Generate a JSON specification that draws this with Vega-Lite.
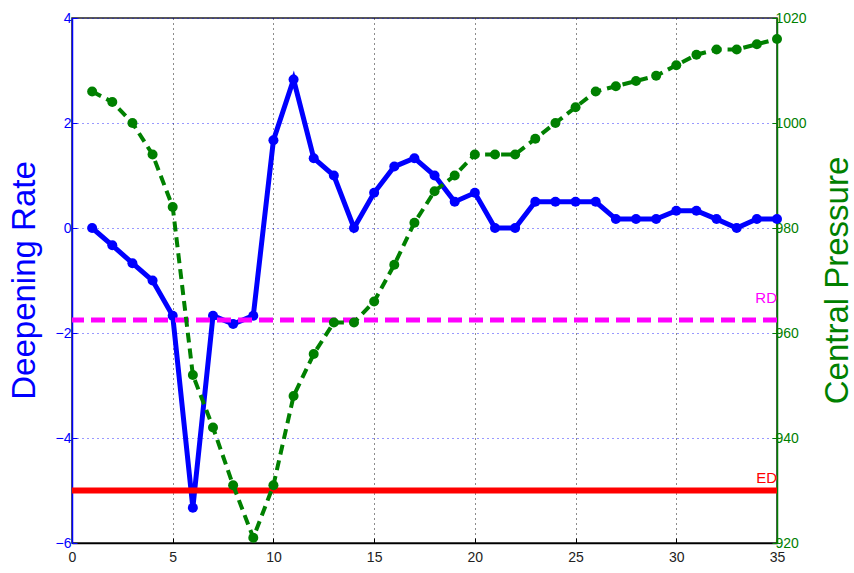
{
  "$schema": "https://vega.github.io/schema/vega-lite/v6.json",
  "width": 705,
  "height": 525,
  "autosize": {"type": "none"},
  "padding": {"left": 72, "top": 18, "right": 77, "bottom": 30},
  "background": "white",
  "config": {
    "font": "Liberation Sans",
    "view": {"stroke": "#222222", "strokeWidth": 1.5},
    "axis": {"labelFont": "Liberation Sans", "titleFont": "Liberation Sans", "labelFontSize": 14, "labelOverlap": false, "labelFlush": false, "tickWidth": 1, "domainWidth": 1.5}
  },
  "datasets": {
    "main": [
      {"x": 1, "rate": 0, "pressure": 1006},
      {"x": 2, "rate": -0.33, "pressure": 1004},
      {"x": 3, "rate": -0.67, "pressure": 1000},
      {"x": 4, "rate": -1, "pressure": 994},
      {"x": 5, "rate": -1.67, "pressure": 984},
      {"x": 6, "rate": -5.33, "pressure": 952},
      {"x": 7, "rate": -1.67, "pressure": 942},
      {"x": 8, "rate": -1.83, "pressure": 931},
      {"x": 9, "rate": -1.67, "pressure": 921},
      {"x": 10, "rate": 1.67, "pressure": 931},
      {"x": 11, "rate": 2.83, "pressure": 948},
      {"x": 12, "rate": 1.33, "pressure": 956},
      {"x": 13, "rate": 1, "pressure": 962},
      {"x": 14, "rate": 0, "pressure": 962},
      {"x": 15, "rate": 0.67, "pressure": 966},
      {"x": 16, "rate": 1.17, "pressure": 973},
      {"x": 17, "rate": 1.33, "pressure": 981},
      {"x": 18, "rate": 1, "pressure": 987},
      {"x": 19, "rate": 0.5, "pressure": 990},
      {"x": 20, "rate": 0.67, "pressure": 994},
      {"x": 21, "rate": 0, "pressure": 994},
      {"x": 22, "rate": 0, "pressure": 994},
      {"x": 23, "rate": 0.5, "pressure": 997},
      {"x": 24, "rate": 0.5, "pressure": 1000},
      {"x": 25, "rate": 0.5, "pressure": 1003},
      {"x": 26, "rate": 0.5, "pressure": 1006},
      {"x": 27, "rate": 0.17, "pressure": 1007},
      {"x": 28, "rate": 0.17, "pressure": 1008},
      {"x": 29, "rate": 0.17, "pressure": 1009},
      {"x": 30, "rate": 0.33, "pressure": 1011},
      {"x": 31, "rate": 0.33, "pressure": 1013},
      {"x": 32, "rate": 0.17, "pressure": 1014},
      {"x": 33, "rate": 0, "pressure": 1014},
      {"x": 34, "rate": 0.17, "pressure": 1015},
      {"x": 35, "rate": 0.17, "pressure": 1016}
    ],
    "rd": [{"name": "RD", "value": -1.75, "labelPos": -1.42, "xpos": 35}],
    "ed": [{"name": "ED", "value": -5, "labelPos": -4.85, "xpos": 35}]
  },
  "layer": [
    {
      "layer": [
        {
          "data": {"name": "main"},
          "mark": {"type": "line", "color": "#0000ff", "strokeWidth": 5},
          "encoding": {
            "x": {"field": "x", "type": "quantitative", "scale": {"domain": [0, 35], "nice": false},
              "axis": {"values": [0, 5, 10, 15, 20, 25, 30, 35], "title": null, "grid": true, "gridColor": "#000000", "gridDash": [1, 4], "gridOpacity": 0.9, "domainColor": "#000000", "tickColor": "#000000", "tickSize": -5, "labelColor": "#222222", "labelPadding": 12}},
            "y": {"field": "rate", "type": "quantitative", "scale": {"domain": [-6, 4], "nice": false},
              "axis": {"orient": "left", "values": [-6, -4, -2, 0, 2, 4], "grid": true, "gridColor": "#0000ff", "gridDash": [1, 4], "gridOpacity": 0.8, "domainColor": "#0000ff", "tickColor": "#0000ff", "tickSize": -5, "labelColor": "#0000ff", "labelPadding": 6,
                "title": "Deepening Rate", "titleColor": "#0000ff", "titleFontSize": 33, "titleFontWeight": "normal", "titleAngle": -90, "titleBaseline": "alphabetic", "titleX": -38, "titleY": 262}}
          }
        },
        {
          "data": {"name": "main"},
          "mark": {"type": "point", "filled": true, "color": "#0000ff", "size": 100, "opacity": 1},
          "encoding": {
            "x": {"field": "x", "type": "quantitative"},
            "y": {"field": "rate", "type": "quantitative"}
          }
        },
        {
          "data": {"name": "rd"},
          "mark": {"type": "rule", "color": "#ff00ff", "strokeWidth": 5, "strokeDash": [14, 7]},
          "encoding": {"y": {"field": "value", "type": "quantitative"}}
        },
        {
          "data": {"name": "ed"},
          "mark": {"type": "rule", "color": "#ff0000", "strokeWidth": 6},
          "encoding": {"y": {"field": "value", "type": "quantitative"}}
        },
        {
          "data": {"name": "rd"},
          "mark": {"type": "text", "color": "#ff00ff", "align": "right", "baseline": "alphabetic", "fontSize": 15},
          "encoding": {
            "x": {"field": "xpos", "type": "quantitative"},
            "y": {"field": "labelPos", "type": "quantitative"},
            "text": {"field": "name"}
          }
        },
        {
          "data": {"name": "ed"},
          "mark": {"type": "text", "color": "#ff0000", "align": "right", "baseline": "alphabetic", "fontSize": 15},
          "encoding": {
            "x": {"field": "xpos", "type": "quantitative"},
            "y": {"field": "labelPos", "type": "quantitative"},
            "text": {"field": "name"}
          }
        }
      ]
    },
    {
      "data": {"name": "main"},
      "layer": [
        {
          "mark": {"type": "line", "color": "#008000", "strokeWidth": 4, "strokeDash": [10, 6]},
          "encoding": {
            "x": {"field": "x", "type": "quantitative"},
            "y": {"field": "pressure", "type": "quantitative", "scale": {"domain": [920, 1020], "nice": false},
              "axis": {"orient": "right", "values": [920, 940, 960, 980, 1000, 1020], "format": "d", "grid": false, "domainColor": "#008000", "tickColor": "#008000", "tickSize": -5, "labelColor": "#008000", "labelPadding": 3,
                "title": "Central Pressure", "titleColor": "#008000", "titleFontSize": 33, "titleFontWeight": "normal", "titleAngle": -90, "titleBaseline": "alphabetic", "titleX": 70, "titleY": 262}}
          }
        },
        {
          "mark": {"type": "point", "filled": true, "color": "#008000", "size": 100, "opacity": 1},
          "encoding": {
            "x": {"field": "x", "type": "quantitative"},
            "y": {"field": "pressure", "type": "quantitative"}
          }
        }
      ]
    }
  ],
  "resolve": {"scale": {"y": "independent"}}
}
